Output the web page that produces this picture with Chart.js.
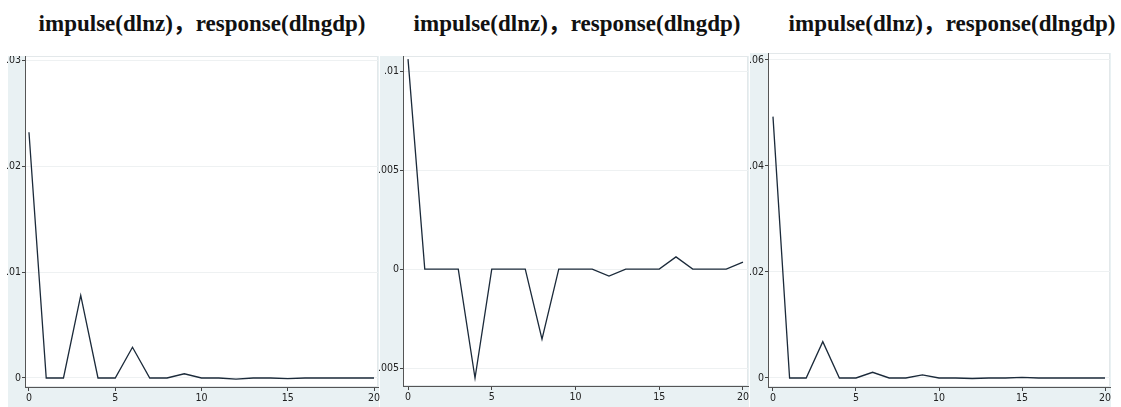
<!DOCTYPE html>
<html>
<head>
<meta charset="utf-8">
<script src="https://cdn.jsdelivr.net/npm/chart.js@4.4.0/dist/chart.umd.min.js"></script>
<style>
  body { margin: 0; background: #fff; width: 1121px; height: 407px; position: relative; overflow: hidden; }
  .title { position: absolute; top: 4px; font: bold 23px 'Liberation Serif', 'Times New Roman', 'Noto Sans CJK SC', serif; color: #111; white-space: nowrap; transform: translateX(-50%); }
  canvas { position: absolute; }
</style>
</head>
<body>
<div class="title" id="t1" style="left:202px"></div>
<div class="title" id="t2" style="left:577px"></div>
<div class="title" id="t3" style="left:952px"></div>
<canvas id="c2" width="380" height="351" style="left:372px;top:56px"></canvas>
<canvas id="c3" width="368" height="354" style="left:746px;top:53px"></canvas>
<canvas id="c1" width="378" height="351" style="left:4px;top:56px"></canvas>
<script>
const titleText = 'impulse(dlnz)，response(dlngdp)';
const steps = [0, 1, 2, 3, 4, 5, 6, 7, 8, 9, 10, 11, 12, 13, 14, 15, 16, 17, 18, 19, 20];
const respA = [0.0232, 0, 0, 0.0078, 0, 0, 0.0029, 0, 0, 0.0004, 0, 0, -0.0001, 0, 0, -0.00005, 0, 0, 0, 0, 0];
const respB = [0.0106, 0, 0, 0, -0.0055, 0, 0, 0, -0.00354, 0, 0, 0, -0.00035, 0, 0, 0, 0.00062, 0, 0, 0, 0.00035];
const respC = [0.0493, 0, 0, 0.00685, 0, 0, 0.00108, 0, 0, 0.00057, 0, 0, -0.0001, 0, 0, 0.0001, 0, 0, 0, 0, 0];
const yTicksA = [0, 0.01, 0.02, 0.03];
const yTicksB = [-0.005, 0, 0.005, 0.01];
const yTicksC = [0, 0.02, 0.04, 0.06];
const xTicks = [0, 5, 10, 15, 20];

['t1', 't2', 't3'].forEach(id => { document.getElementById(id).textContent = titleText; });

// bluish panel from bgLeft up to the plot's right edge, so neighbours show through
const panelBg = {
  id: 'panelBg',
  beforeDraw(chart, args, opts) {
    const c = chart.ctx, a = chart.chartArea;
    const left = opts.left || 0;
    c.save();
    c.fillStyle = '#e9f1f3';
    c.fillRect(left, 0, a.right + 1 - left, chart.height);
    c.fillStyle = '#ffffff';
    c.fillRect(a.left, a.top, a.right - a.left, a.bottom - a.top);
    c.strokeStyle = '#e3e8ea';
    c.lineWidth = 1;
    c.strokeRect(a.left + 0.5, a.top + 0.5, a.right - a.left - 1, a.bottom - a.top - 1);
    c.restore();
  }
};

function fmt(v) {
  return String(v).replace('0.', '.');
}

const tickFont = { family: "'Liberation Sans Narrow', 'Arial Narrow', 'DejaVu Sans Condensed', sans-serif", size: 10.5 };

function makeChart(id, values, yTicks, yMin, yMax, xMin, xMax, yWidth, xHeight, bgLeft) {
  const ctx = document.getElementById(id).getContext('2d');
  return new Chart(ctx, {
    type: 'line',
    data: {
      datasets: [{
        data: steps.map((s, i) => ({ x: s, y: values[i] })),
        borderColor: '#1b2a3a',
        borderWidth: 1.3,
        pointRadius: 0,
        tension: 0,
        fill: false,
      }],
    },
    options: {
      responsive: false,
      animation: false,
      layout: { padding: { left: 0, right: 4, top: 0, bottom: 0 } },
      plugins: { legend: { display: false }, tooltip: { enabled: false }, panelBg: { left: bgLeft } },
      scales: {
        x: {
          type: 'linear',
          min: xMin,
          max: xMax,
          afterBuildTicks: (s) => { s.ticks = xTicks.map(v => ({ value: v })); },
          afterFit: (s) => { s.height = xHeight; s.paddingLeft = 0; s.paddingRight = 0; },
          grid: { drawOnChartArea: false, tickLength: 4, tickColor: '#444' },
          border: { color: '#555', width: 1 },
          ticks: { padding: 1, maxRotation: 0, color: '#222', font: tickFont, callback: (v) => fmt(v) },
        },
        y: {
          min: yMin,
          max: yMax,
          afterBuildTicks: (s) => { s.ticks = yTicks.map(v => ({ value: v })); },
          afterFit: (s) => { s.width = yWidth; s.paddingTop = 0; s.paddingBottom = 0; },
          grid: { color: '#eef1f2', tickLength: 3, tickColor: '#444' },
          border: { color: '#555', width: 1 },
          ticks: { padding: 1, color: '#222', font: tickFont, callback: (v) => fmt(v) },
        },
      },
    },
    plugins: [panelBg],
  });
}

makeChart('c1', respA, yTicksA, -0.00085, 0.0304, -0.23, 20.23, 21, 20, 4);
makeChart('c2', respB, yTicksB, -0.0059, 0.01076, -0.3, 20.3, 31, 21, 8);
makeChart('c3', respC, yTicksC, -0.0017, 0.0613, -0.3, 20.3, 22, 20, 4);
</script>
</body>
</html>
